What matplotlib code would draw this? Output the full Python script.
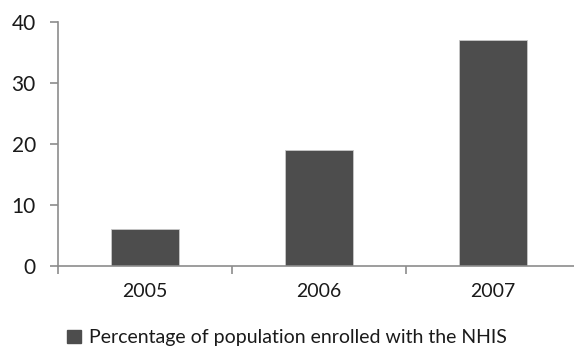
import matplotlib
matplotlib.use("Agg")
import matplotlib.pyplot as plt
from matplotlib.patches import Patch

plt.rcParams["font.family"] = ["Lato", "DejaVu Sans"]

years = ["2005", "2006", "2007"]
enrolled_pct = [6, 19, 37]
series_label = "Percentage of population enrolled with the NHIS"

BAR = "#4d4d4d"
AXIS = "#8c8c8c"
TXT = "#1a1a1a"

fig = plt.figure(figsize=(5.74, 3.5), dpi=100)
ax = fig.add_axes([0.101, 0.24, 0.91, 0.697])

x = range(len(years))
ax.bar(x, enrolled_pct, width=0.39, color=BAR, edgecolor="#c8c8c8", linewidth=0.6)

ax.set_xlim(-0.5, len(years) - 0.5)
ax.set_ylim(0, 40)
ax.set_yticks([0, 10, 20, 30, 40])
ax.set_xticks(list(x))
ax.set_xticklabels(years)
ax.set_xticks([i - 0.5 for i in range(len(years) + 1)], minor=True)

for s in ("top", "right"):
    ax.spines[s].set_visible(False)
for s in ("left", "bottom"):
    ax.spines[s].set_color(AXIS)
    ax.spines[s].set_linewidth(1.2)

ax.tick_params(axis="y", colors=AXIS, length=6, width=1.2, labelcolor=TXT,
               labelsize=15, pad=10)
ax.tick_params(axis="x", which="major", length=0, labelcolor=TXT,
               labelsize=14, pad=12)
ax.tick_params(axis="x", which="minor", colors=AXIS, length=6, width=1.2)

handle = Patch(facecolor=BAR, edgecolor=BAR)
fig.legend([handle], [series_label], loc="center", bbox_to_anchor=(0.5, 0.035),
           frameon=False, fontsize=14, handlelength=0.7, handleheight=0.7,
           handletextpad=0.4, labelcolor=TXT)

fig.savefig("out.png", dpi=100, facecolor="white")
